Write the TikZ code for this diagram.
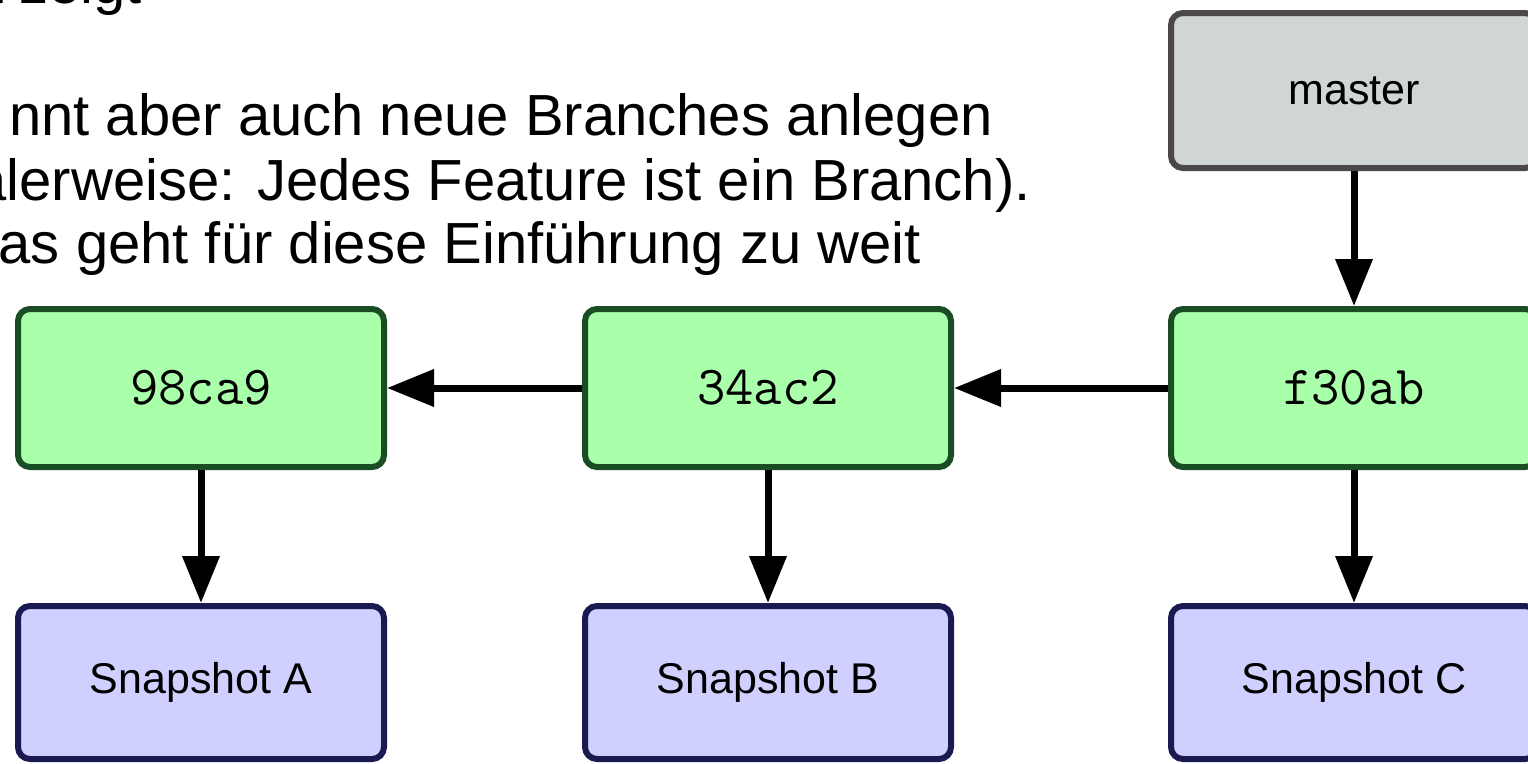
\documentclass[tikz,border=0pt]{standalone}
\usepackage{fontspec}
\setmainfont{Liberation Sans}
\usetikzlibrary{arrows.meta}
\definecolor{gfill}{RGB}{170,255,170}
\definecolor{gdraw}{RGB}{26,77,36}
\definecolor{mfill}{RGB}{208,214,212}
\definecolor{mdraw}{RGB}{77,72,72}
\definecolor{sfill}{RGB}{208,208,255}
\definecolor{sdraw}{RGB}{26,26,80}
\begin{document}
\begin{tikzpicture}[x=1pt,y=-1pt,
  box/.style={rectangle, rounded corners=12pt, line width=6pt, inner sep=0pt, minimum width=366pt},
  commit/.style={box, fill=gfill, draw=gdraw, minimum height=158pt, font=\ttfamily\fontsize{55}{55}\selectfont},
  branch/.style={box, fill=mfill, draw=mdraw, minimum height=155pt, font=\fontsize{43}{43}\selectfont},
  snap/.style={box, fill=sfill, draw=sdraw, minimum height=153pt, font=\fontsize{43}{43}\selectfont},
  arr/.style={line width=7pt, -{Triangle[length=47pt,width=36pt]}},
  prose/.style={inner sep=0pt, font=\fontsize{58}{58}\selectfont}
]
\useasboundingbox (0,0) rectangle (1528,763);
\clip (0,0) rectangle (1528,763);
\fill[white] (0,0) rectangle (1528,763);

\node[prose, anchor=base west] (l0) at (-13,3) {t zeigt};
\node[prose, anchor=base east] (l1) at (993,135) {nnt aber auch neue Branches anlegen};
\node[prose, anchor=base east] (l2) at (1031,200) {alerweise: Jedes Feature ist ein Branch).};
\node[prose, anchor=base east] (l3) at (921,263) {as geht für diese Einführung zu weit};

\node[branch] (master) at (1354,90.5) {master};
\node[commit] (c1) at (201,388) {98ca9};
\node[commit] (c2) at (768,388) {34ac2};
\node[commit] (c3) at (1354,388) {f30ab};
\node[snap] (s1) at (201,682.5) {Snapshot A};
\node[snap] (s2) at (768,682.5) {Snapshot B};
\node[snap] (s3) at (1354,682.5) {Snapshot C};

\draw[arr] (master) -- (c3);
\draw[arr] (c2) -- (c1);
\draw[arr] (c3) -- (c2);
\draw[arr] (c1) -- (s1);
\draw[arr] (c2) -- (s2);
\draw[arr] (c3) -- (s3);
\end{tikzpicture}
\end{document}
